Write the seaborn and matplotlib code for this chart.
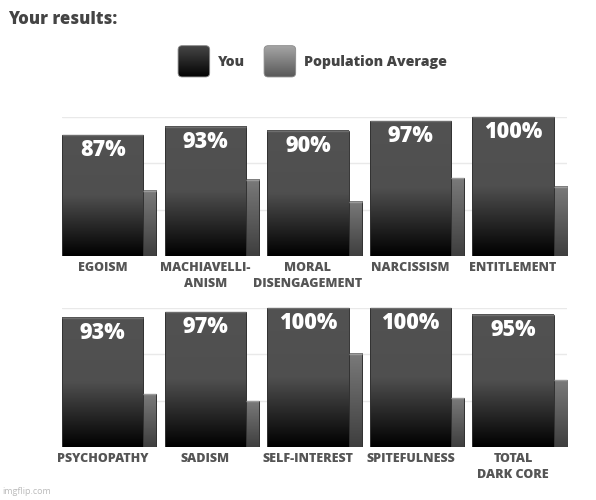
import numpy as np
import matplotlib
matplotlib.use("Agg")
import matplotlib.pyplot as plt
from matplotlib.colors import LinearSegmentedColormap
from matplotlib.patches import FancyBboxPatch
import seaborn as sns

# values (percent)
top_labels = ["EGOISM", "MACHIAVELLI-\nANISM", "MORAL\nDISENGAGEMENT", "NARCISSISM", "ENTITLEMENT"]
top_you = [87, 93, 90, 97, 100]
top_pop = [47, 55, 39, 56, 50]

bottom_labels = ["PSYCHOPATHY", "SADISM", "SELF-INTEREST", "SPITEFULNESS", "TOTAL\nDARK CORE"]
bottom_you = [93, 97, 100, 100, 95]
bottom_pop = [38, 33, 67, 35, 48]

legend_labels = ["You", "Population Average"]

sns.set_theme(style="white")
plt.rcParams["font.family"] = ["Open Sans", "DejaVu Sans"]

YOU_W = 0.794
POP_W = 0.127

you_cmap = LinearSegmentedColormap.from_list(
    "you", [(0.0, "#000000"), (0.5, "#4f4f4f"), (1.0, "#525252")])
pop_cmap = LinearSegmentedColormap.from_list("pop", ["#3e3e3e", "#7a7a7a"])
grad = np.linspace(0, 1, 256).reshape(-1, 1)


def shade(ax, patch, cmap, top_color):
    x0, y0 = patch.get_x(), patch.get_y()
    w, h = patch.get_width(), patch.get_height()
    ax.imshow(grad, cmap=cmap, extent=(x0, x0 + w, y0, y0 + h), origin="lower",
              aspect="auto", zorder=2, interpolation="bicubic")
    patch.set_facecolor("none")
    patch.set_edgecolor("#333333")
    patch.set_linewidth(0.7)
    patch.set_zorder(3)
    ax.plot([x0, x0 + w], [y0 + h, y0 + h], color=top_color, lw=1.0, zorder=4,
            solid_capstyle="butt", clip_on=False)


def draw_panel(ax, labels, you, pop):
    n = len(labels)
    sns.barplot(x=labels, y=you, width=YOU_W, errorbar=None, color="#4f4f4f", ax=ax)
    for p in list(ax.patches):
        shade(ax, p, you_cmap, "#6e6e6e")
    pos = np.arange(n)
    pop_bars = ax.bar(pos + YOU_W / 2, pop, width=POP_W, align="edge", color="#666666")
    for p in pop_bars:
        shade(ax, p, pop_cmap, "#9a9a9a")
    for i, v in enumerate(you):
        ax.annotate(f"{v}%", (i, v), xytext=(0, -11), textcoords="offset points",
                    ha="center", va="center", color="white", fontsize=15.5,
                    fontweight="heavy", zorder=5)
    ax.set_xlim(-YOU_W / 2, n - 1 + YOU_W / 2 + POP_W)
    ax.set_ylim(0, 100)
    ax.set_yticks([100 / 3, 200 / 3, 100])
    ax.set_yticklabels([])
    ax.yaxis.grid(True, color="#e9e9e9", lw=1)
    ax.xaxis.grid(False)
    ax.set_axisbelow(True)
    ax.set_xticks(pos)
    ax.set_xticklabels(labels, fontsize=9, fontweight="heavy", color="#555555",
                       linespacing=1.45)
    ax.tick_params(axis="both", length=0)
    ax.tick_params(axis="x", pad=4)
    for s in ax.spines.values():
        s.set_visible(False)


fig = plt.figure(figsize=(5.96, 5.0), dpi=100)
fig.patch.set_facecolor("white")

ax_top = fig.add_axes([0.104, 0.488, 0.847, 0.278])
ax_bot = fig.add_axes([0.104, 0.106, 0.847, 0.278])
draw_panel(ax_top, top_labels, top_you, top_pop)
draw_panel(ax_bot, bottom_labels, bottom_you, bottom_pop)

fig.text(0.013, 0.962, "Your results:", fontsize=12, fontweight="heavy",
         color="#444444", ha="left", va="center")

# legend swatches with gradients
legend_maps = [
    LinearSegmentedColormap.from_list("lg_you", ["#000000", "#4a4a4a"]),
    LinearSegmentedColormap.from_list("lg_pop", ["#555555", "#aaaaaa"]),
]
sw_left = [0.2965, 0.4408]
txt_left = [0.3658, 0.510]
for cm, sl, tl, lab in zip(legend_maps, sw_left, txt_left, legend_labels):
    sax = fig.add_axes([sl, 0.8434, 0.0576, 0.068])
    sax.set_xlim(0, 1)
    sax.set_ylim(0, 1)
    sax.axis("off")
    box = FancyBboxPatch((0.04, 0.04), 0.92, 0.92,
                         boxstyle="round,pad=0,rounding_size=0.12",
                         facecolor="none", edgecolor="#8a8a8a", lw=0.6,
                         transform=sax.transData, zorder=3)
    sax.add_patch(box)
    im = sax.imshow(grad, cmap=cm, extent=(0, 1, 0, 1), origin="lower",
                    aspect="auto", zorder=2)
    im.set_clip_path(box)
    fig.text(tl, 0.8766, lab, fontsize=10.2, fontweight="heavy", color="#444444",
             ha="left", va="center")

fig.text(0.004, 0.018, "imgflip.com", fontsize=6.5, color="#bbbbbb",
         ha="left", va="center")

fig.savefig("out.png", dpi=100, facecolor="white")
